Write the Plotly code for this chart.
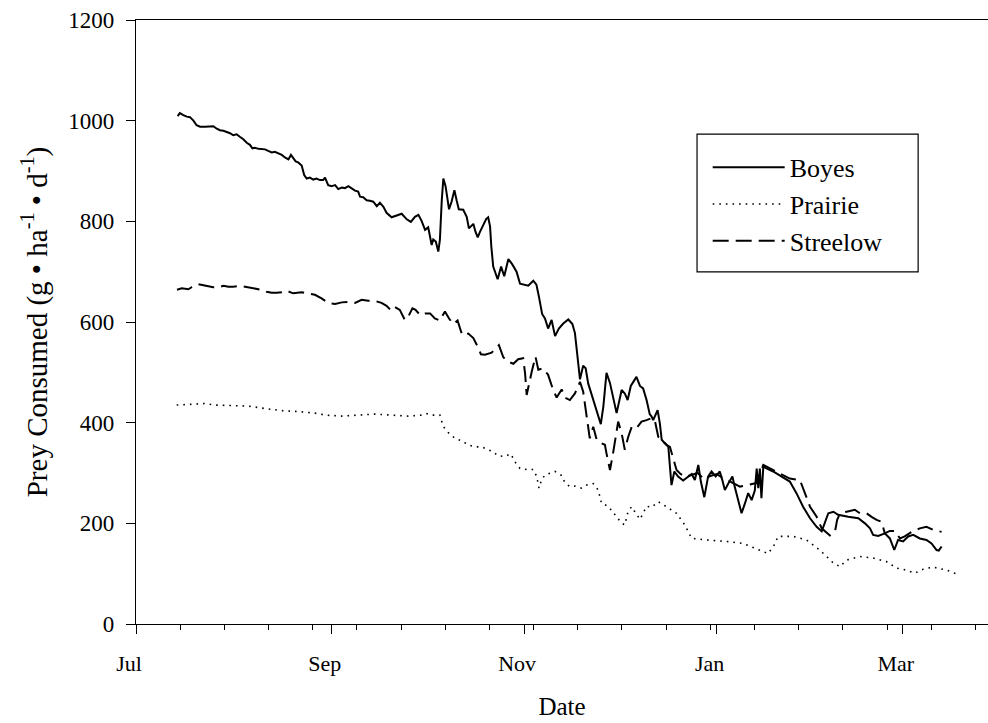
import pandas as pd
import plotly.graph_objects as go

# Season start; x values are days elapsed since this date
SEASON_START = pd.Timestamp("1998-07-01")

boyes_day = [13.2, 13.9, 15.0, 16.1, 17.1, 18.2, 19.2, 20.3, 21.9, 23.4, 24.5, 25.6, 26.6, 27.7, 28.7,
             29.8, 30.8, 31.9, 32.9, 34.0, 35.1, 36.1, 36.9, 37.7, 38.8, 39.8, 40.9, 41.9, 43.0, 44.0,
             45.1, 46.2, 47.2, 48.3, 49.1, 49.8, 50.6, 51.4, 52.5, 53.3, 54.1, 55.1, 56.2, 57.2, 58.3,
             59.3, 59.9, 60.9, 62.0, 63.1, 64.1, 65.2, 66.2, 67.3, 68.3, 69.4, 70.4, 71.0, 72.0, 73.1,
             74.1, 75.2, 76.3, 77.3, 78.4, 79.4, 81.0, 82.6, 84.2, 85.8, 87.1, 88.4, 89.5, 90.5, 91.6,
             92.6, 93.7, 94.2, 95.0, 95.8, 96.3, 96.9, 97.4, 98.1, 99.2, 100.0, 100.9, 101.6, 102.3,
             103.7, 104.8, 105.5, 106.4, 106.9, 107.6, 108.3, 109.0, 110.0, 111.0, 111.6, 112.2, 112.6,
             113.2, 114.6, 115.7, 116.7, 118.0, 119.2, 120.6, 121.7, 123.3, 124.3, 125.9, 126.9, 127.7,
             128.7, 129.6, 130.6, 131.7, 132.8, 134.0, 135.4, 137.0, 138.3, 139.1, 140.0, 140.7, 141.7,
             142.5, 143.3, 144.6, 146.0, 147.3, 148.1, 149.1, 150.2, 151.2, 152.3, 153.9, 154.9, 155.8,
             156.8, 158.6, 159.7, 160.7, 161.8, 162.8, 163.4, 163.9, 165.3, 166.0, 166.6, 167.6, 168.7,
             169.2, 169.7, 170.6, 171.8, 173.4, 175.0, 176.1, 177.1, 178.2, 179.0, 180.1, 181.3, 182.4,
             183.7, 185.0, 185.8, 186.6, 187.7, 189.0, 189.8, 191.1, 191.9, 193.0, 194.0, 195.1, 196.1,
             196.7, 197.2, 197.7, 198.2, 198.8, 199.8, 201.9, 204.6, 207.2, 209.3, 211.4, 213.6, 215.7,
             217.3, 218.3, 219.4, 221.0, 222.5, 225.7, 228.9, 231.0, 232.6, 233.6, 235.2, 237.3, 238.9,
             240.3, 241.5, 243.1, 244.7, 246.3, 248.4, 250.5, 252.1, 253.7, 254.4, 255.3]
boyes_val = [1009, 1015, 1011, 1008, 1007, 1000, 991, 988, 988, 988, 989, 984, 981, 980, 978,
             975, 971, 973, 968, 963, 956, 952, 945, 946, 944, 943, 943, 940, 937, 938,
             935, 932, 927, 923, 932, 925, 919, 917, 911, 892, 885, 887, 883, 885, 882,
             882, 887, 872, 870, 872, 864, 867, 866, 870, 866, 861, 859, 849, 848, 842,
             841, 839, 830, 837, 829, 817, 808, 811, 815, 804, 799, 809, 813, 801, 783,
             788, 753, 764, 760, 740, 763, 842, 885, 870, 824, 839, 862, 842, 824,
             823, 809, 786, 793, 795, 779, 768, 779, 793, 805, 808, 790, 750,
             710, 685, 710, 691, 725, 715, 700, 676, 674, 672, 682, 674, 650,
             616, 607, 587, 604, 572, 587, 597, 605, 596, 578, 525, 486, 513,
             508, 478, 452, 425, 397, 432, 499, 479, 448, 419, 465, 458, 445,
             473, 491, 473, 468, 445, 417, 412, 405, 425, 399, 366, 359, 352,
             313, 276, 303, 293, 285, 293, 298, 286, 316, 283, 252, 293, 303,
             293, 303, 286, 266, 279, 293, 271, 240, 220, 240, 260, 246, 265,
             309, 270, 309, 250, 313, 309, 303, 293, 283, 260, 233, 210, 193,
             184, 200, 220, 223, 217, 213, 210, 200, 190, 177, 175, 180, 170,
             147, 167, 164, 174, 177, 170, 167, 160, 147, 146, 154]

prairie_day = [12.9, 17.6, 21.9, 25.0, 30.3, 35.6, 40.9, 46.2, 51.4, 56.7, 60.0, 63.1, 65.2, 70.4,
               75.7, 81.0, 86.3, 90.5, 92.1, 93.7, 96.3, 97.4, 99.0, 101.1, 103.2, 105.3, 107.4,
               109.5, 111.6, 113.2, 114.8, 116.9, 118.8, 120.1, 121.7, 123.8, 125.9, 127.0, 127.7,
               128.5, 129.6, 131.2, 132.8, 134.7, 136.0, 137.5, 139.1, 141.2, 142.8, 144.9, 146.5,
               147.5, 149.6, 151.8, 153.9, 154.9, 155.8, 157.0, 158.3, 159.7, 160.7, 161.8, 163.4,
               165.5, 168.1, 171.3, 173.9, 176.1, 180.8, 187.2, 192.4, 196.6, 200.3, 202.0, 203.5,
               208.3, 212.5, 216.7, 221.0, 223.1, 225.2, 229.4, 233.6, 237.8, 241.0, 244.2, 246.8,
               249.5, 252.6, 256.9, 261.1]
prairie_val = [435, 437, 438, 435, 434, 433, 428, 424, 422, 419, 415, 413, 413, 415,
               417, 415, 413, 415, 418, 415, 415, 392, 380, 369, 364, 356, 352,
               352, 347, 342, 334, 333, 338, 322, 309, 307, 307, 293, 270,
               286, 296, 299, 303, 296, 280, 273, 274, 270, 276, 279, 266,
               240, 234, 217, 200, 197, 220, 233, 220, 208, 220, 234, 232,
               243, 233, 220, 197, 170, 167, 164, 160, 150, 140, 154, 174,
               174, 167, 147, 121, 114, 127, 134, 131, 124, 111, 107, 101,
               109, 113, 107, 97]

streelow_day = [13.0, 14.5, 16.6, 17.6, 19.8, 21.3, 22.9, 24.5, 26.1, 27.7, 29.3, 30.8, 32.9, 34.5,
                36.1, 37.7, 39.8, 41.4, 43.0, 44.6, 46.2, 47.7, 48.8, 49.8, 52.5, 54.6, 56.7, 58.8,
                60.4, 61.5, 63.1, 65.2, 67.3, 69.4, 71.5, 73.6, 75.7, 77.8, 79.4, 80.5, 81.5, 83.6,
                85.2, 86.3, 87.6, 88.6, 90.0, 91.6, 93.2, 94.7, 96.3, 97.9, 99.2, 100.5, 101.9, 102.7,
                103.4, 105.3, 106.9, 108.3, 109.3, 110.6, 112.7, 115.0, 116.4, 118.0, 119.6, 121.1,
                122.7, 123.3, 123.8, 125.4, 126.6, 127.5, 129.0, 130.6, 132.2, 133.3, 134.9, 135.9,
                137.5, 139.1, 140.7, 141.7, 142.8, 143.8, 144.9, 146.0, 147.5, 148.6, 149.1, 150.2,
                151.2, 152.3, 152.8, 153.9, 154.9, 156.0, 157.1, 158.6, 160.2, 161.8, 163.4, 164.4,
                165.5, 166.6, 168.1, 169.2, 170.3, 171.3, 172.4, 174.0, 176.0, 178.0, 180.0, 182.0,
                184.0, 186.0, 188.0, 190.0, 191.4, 193.0, 195.0, 196.6, 198.8, 200.9, 204.0, 207.2,
                210.4, 212.0, 213.6, 215.7, 217.3, 219.9, 221.5, 222.2, 223.1, 225.2, 227.8, 229.4,
                231.5, 233.1, 234.7, 236.3, 237.3, 238.9, 240.5, 242.1, 243.6, 245.8, 248.4, 250.5,
                252.6, 255.3]
streelow_val = [664, 667, 665, 669, 675, 673, 670, 669, 669, 672, 670, 670, 672, 670,
                669, 666, 664, 660, 658, 658, 659, 662, 660, 657, 659, 657, 654, 647,
                640, 637, 636, 639, 640, 638, 644, 642, 642, 638, 632, 625, 632, 624,
                604, 611, 627, 624, 614, 617, 617, 607, 603, 621, 607, 596, 603, 587,
                574, 577, 568, 551, 536, 535, 539, 554, 530, 521, 517, 526,
                528, 498, 455, 501, 531, 505, 508, 495, 465, 450, 466, 450,
                445, 458, 481, 462, 418, 369, 392, 366, 359, 356, 339, 306,
                340, 385, 402, 379, 346, 372, 392, 389, 402, 405, 409, 405,
                372, 366, 356, 352, 326, 306, 299, 292, 296, 300, 288, 294,
                298, 290, 284, 278, 273, 275, 278, 280, 316, 309, 299, 289,
                286, 260, 233, 213, 190, 176, 183, 207, 220, 223, 227, 220,
                220, 213, 207, 203, 180, 185, 185, 170, 174, 183, 190, 193,
                187, 183]

month_ticks = ["1998-07-01", "1998-09-01", "1998-11-01", "1999-01-01", "1999-03-01"]
month_labels = ["Jul", "Sep", "Nov", "Jan", "Mar"]

FONT = "Liberation Serif, Times New Roman, serif"


def to_dates(days):
    return SEASON_START + pd.to_timedelta(days, unit="D")


fig = go.Figure()
fig.add_trace(go.Scatter(x=to_dates(boyes_day), y=boyes_val, mode="lines", name="Boyes",
                         line=dict(color="black", width=2)))
fig.add_trace(go.Scatter(x=to_dates(prairie_day), y=prairie_val, mode="lines", name="Prairie",
                         line=dict(color="black", width=1.6, dash="1.6px,5px")))
fig.add_trace(go.Scatter(x=to_dates(streelow_day), y=streelow_val, mode="lines", name="Streelow",
                         line=dict(color="black", width=2, dash="16px,7px")))

fig.update_layout(
    width=988, height=723,
    margin=dict(l=136, r=0, t=20, b=99),
    paper_bgcolor="white", plot_bgcolor="white",
    font=dict(family=FONT, size=23, color="black"),
    showlegend=True,
    legend=dict(x=0.671, y=0.795, xanchor="left", yanchor="top",
                borderwidth=0, bgcolor="rgba(0,0,0,0)",
                font=dict(family=FONT, size=26), itemwidth=72,
                tracegroupgap=0),
    # frame around the legend entries
    shapes=[dict(type="rect", xref="paper", yref="paper",
                 x0=0.6585, x1=0.918, y0=0.583, y1=0.811,
                 line=dict(color="black", width=1.2), layer="above")],
)

fig.update_xaxes(
    type="date",
    range=[SEASON_START, SEASON_START + pd.Timedelta(days=270)],
    tickmode="array", tickvals=month_ticks, ticktext=month_labels,
    tickfont=dict(family=FONT, size=22),
    ticks="outside", ticklen=9, tickwidth=1, tickcolor="black",
    ticklabelshift=-7, ticklabelstandoff=10,
    minor=dict(tick0="1998-07-01", dtick=14 * 86400000, ticks="outside", ticklen=5,
               tickwidth=1, tickcolor="black", showgrid=False),
    showline=True, linecolor="black", linewidth=1.2, mirror=True,
    showgrid=False, zeroline=False,
    title=dict(text="Date", font=dict(family=FONT, size=25), standoff=22),
)

fig.update_yaxes(
    range=[0, 1200], dtick=200, tick0=0,
    tickfont=dict(family=FONT, size=23),
    ticks="outside", ticklen=9, tickwidth=1, tickcolor="black",
    ticklabelstandoff=7,
    showline=True, linecolor="black", linewidth=1.2,
    showgrid=False, zeroline=False,
    title=dict(text="Prey Consumed (g \u2022 ha<sup>-1</sup> \u2022 d<sup>-1</sup>)",
               font=dict(family=FONT, size=29), standoff=12),
)

fig.write_html("out.html")
